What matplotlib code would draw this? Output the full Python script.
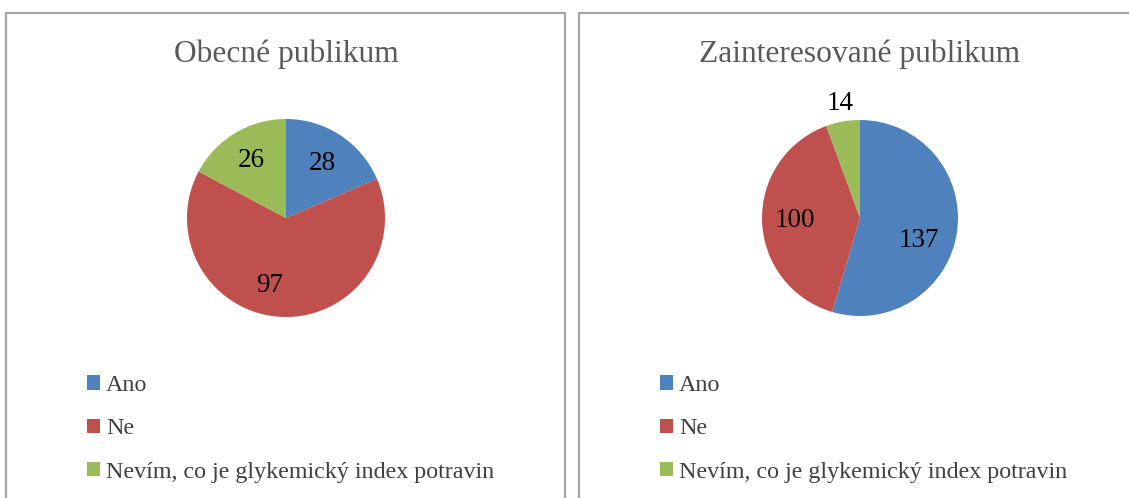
import matplotlib
matplotlib.use("Agg")
import matplotlib.pyplot as plt
from matplotlib.patches import Rectangle
import numpy as np

plt.rcParams['font.family'] = ['Liberation Serif', 'DejaVu Serif']

categories = ["Ano", "Ne", "Nevím, co je glykemický index potravin"]
titles = ["Obecné publikum", "Zainteresované publikum"]
values_obecne = [28, 97, 26]
values_zaint = [137, 100, 14]
colors = ["#4F81BD", "#C0504D", "#9BBB59"]

W, H = 1129, 498
fig = plt.figure(figsize=(W / 100, H / 100), dpi=100)

def fx(px):
    return px / W
def fy(py):
    return 1 - py / H

fig.patches.append(Rectangle((fx(6), fy(510)), fx(559), fy(13) - fy(510),
                             transform=fig.transFigure, fill=False,
                             edgecolor="#A6A6A6", linewidth=1.6))
fig.patches.append(Rectangle((fx(579), fy(510)), fx(570), fy(13) - fy(510),
                             transform=fig.transFigure, fill=False,
                             edgecolor="#A6A6A6", linewidth=1.6))

# label placement: (radial distance, angular offset in degrees) per slice
panels = [
    dict(values=values_obecne, title=titles[0], cx=286, cy=218, r=99,
         place=[(0.66, 0), (0.70, -11), (0.68, 0)], legx=87),
    dict(values=values_zaint, title=titles[1], cx=860, cy=218, r=98,
         place=[(0.64, -13), (0.66, 0), (1.19, 0)], legx=660),
]

for p in panels:
    cx, cy, r = p["cx"], p["cy"], p["r"]
    ax = fig.add_axes([fx(cx - r), fy(cy + r), 2 * r / W, 2 * r / H])
    wedges, _ = ax.pie(p["values"], colors=colors, startangle=90,
                       counterclock=False, radius=1.0,
                       wedgeprops=dict(linewidth=0))
    ax.set_xlim(-1, 1)
    ax.set_ylim(-1, 1)
    ax.set_aspect('equal')
    ax.axis('off')
    for w, v, (d, off) in zip(wedges, p["values"], p["place"]):
        ang = np.deg2rad((w.theta1 + w.theta2) / 2 + off)
        ax.text(d * np.cos(ang), d * np.sin(ang), str(v), ha='center',
                va='center', fontsize=19.5, color='black')
    fig.text(fx(cx), fy(54), p["title"], ha='center', va='center',
             fontsize=22.7, color='#595959')
    fig.legend(wedges, categories, loc='upper left',
               bbox_to_anchor=(fx(p["legx"]), fy(375)),
               bbox_transform=fig.transFigure, frameon=False,
               fontsize=17.3, handlelength=0.55, handleheight=0.55,
               handletextpad=0.25, labelspacing=0.93, borderpad=0,
               borderaxespad=0, labelcolor='#404040')

fig.savefig("out.png", dpi=100)
